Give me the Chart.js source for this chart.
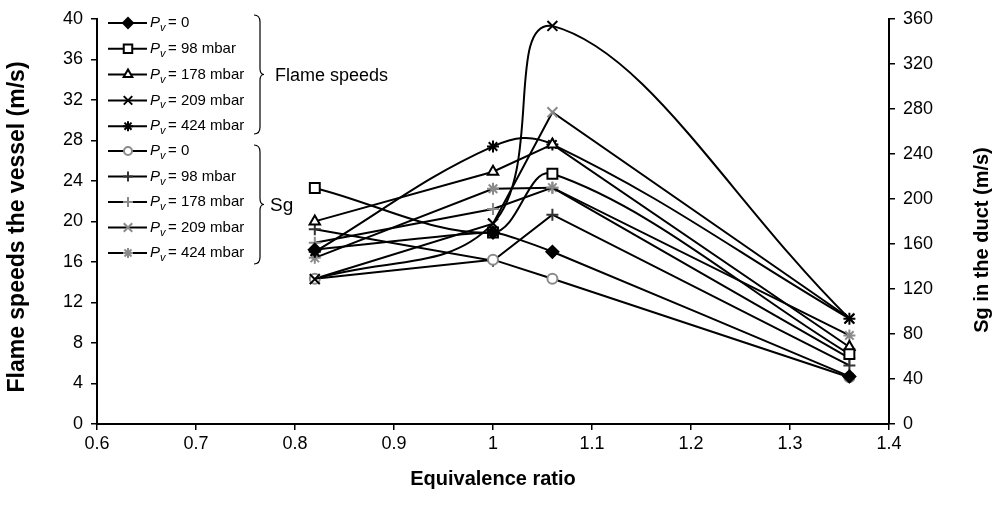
<!DOCTYPE html>
<html>
<head>
<meta charset="utf-8">
<script src="https://cdn.jsdelivr.net/npm/chart.js@4.4.0/dist/chart.umd.min.js"></script>
<style>
  html, body { margin: 0; padding: 0; background: #fff; }
  #wrap { position: relative; width: 995px; height: 509px; }
</style>
</head>
<body>
<div id="wrap"><canvas id="chart" width="995" height="509"></canvas></div>
<script>
// equivalence ratios tested
const ratios = [0.82, 1.0, 1.06, 1.36];

// flame speeds in the vessel (m/s), left axis
const fsPv0   = [17.2, 18.9, 17.0, 4.7];
const fsPv98  = [23.3, 18.9, 24.7, 6.9];
const fsPv178 = [20.0, 24.9, 27.6, 7.6];
const fsPv209 = [14.3, 19.8, 39.3, 10.4];
const fsPv424 = [17.0, 27.4, 27.6, 10.4];

// Sg in the duct (m/s), right axis
const sgPv0   = [129, 146, 129, 41.5];
const sgPv98  = [173, 145, 186, 52];
const sgPv178 = [161, 191, 210, 58.5];
const sgPv209 = [129, 178, 277, 94];
const sgPv424 = [147.6, 209, 210, 78.7];

const pvLabels = ['0', '98 mbar', '178 mbar', '209 mbar', '424 mbar'];

const GRAY = '#8a8a8a';
const pts = vals => vals.map((v, i) => ({ x: ratios[i], y: v }));

const series = [
  { data: fsPv0,   axis: 'y',  style: 'rectRot',  r: 6, color: '#000', fill: '#000', tension: 0.15 },
  { data: fsPv98,  axis: 'y',  style: 'rect',     r: 7, color: '#000', fill: '#fff', tension: 0.35 },
  { data: fsPv178, axis: 'y',  style: 'triangle', r: 6, color: '#000', fill: '#fff', tension: 0 },
  { data: fsPv209, axis: 'y',  style: 'crossRot', r: 7, color: '#000', fill: '#000', tension: 0.4 },
  { data: fsPv424, axis: 'y',  style: 'star',     r: 6, color: '#000', fill: '#000', tension: 0.4 },
  { data: sgPv0,   axis: 'y2', style: 'circle',   r: 5, color: GRAY,   fill: '#fff', tension: 0 },
  { data: sgPv98,  axis: 'y2', style: 'cross',    r: 6, color: '#333', fill: '#333', tension: 0 },
  { data: sgPv178, axis: 'y2', style: 'cross',    r: 6, color: GRAY,   fill: GRAY,   tension: 0 },
  { data: sgPv209, axis: 'y2', style: 'crossRot', r: 7, color: GRAY,   fill: GRAY,   tension: 0 },
  { data: sgPv424, axis: 'y2', style: 'star',     r: 6, color: GRAY,   fill: GRAY,   tension: 0 }
];

const datasets = series.map(s => ({
  data: pts(s.data),
  yAxisID: s.axis,
  borderColor: '#000',
  borderWidth: 2,
  tension: s.tension,
  pointStyle: s.style,
  pointRadius: s.r,
  pointBorderColor: s.color,
  pointBackgroundColor: s.fill,
  pointBorderWidth: 2
}));

function marker(ctx, s, x, y) {
  ctx.save();
  ctx.strokeStyle = s.color;
  ctx.fillStyle = s.fill;
  ctx.lineWidth = 2;
  Chart.helpers.drawPoint(ctx, { pointStyle: s.style, radius: s.r - 1, rotation: 0, borderWidth: 2 }, x, y);
  ctx.restore();
}

function brace(ctx, x, top, bottom, w) {
  const mid = (top + bottom) / 2;
  ctx.beginPath();
  ctx.moveTo(x, top);
  ctx.quadraticCurveTo(x + w, top, x + w, top + 7);
  ctx.lineTo(x + w, mid - 6);
  ctx.quadraticCurveTo(x + w, mid, x + w + 4, mid);
  ctx.quadraticCurveTo(x + w, mid, x + w, mid + 6);
  ctx.lineTo(x + w, bottom - 7);
  ctx.quadraticCurveTo(x + w, bottom, x, bottom);
  ctx.stroke();
}

const decor = {
  id: 'decor',
  afterDraw(chart) {
    const ctx = chart.ctx;
    ctx.save();
    // legend
    series.forEach((s, i) => {
      const y = i < 5 ? 23 + i * 25.8 : 151 + (i - 5) * 25.5;
      ctx.strokeStyle = '#000';
      ctx.lineWidth = 2;
      ctx.beginPath(); ctx.moveTo(108, y); ctx.lineTo(147, y); ctx.stroke();
      marker(ctx, s, 128, y);
      ctx.fillStyle = '#000';
      ctx.textBaseline = 'middle';
      ctx.textAlign = 'left';
      ctx.font = 'italic 15px "Liberation Sans", Arial, sans-serif';
      ctx.fillText('P', 150, y);
      ctx.font = 'italic 11px "Liberation Sans", Arial, sans-serif';
      ctx.fillText('v', 160, y + 5);
      ctx.font = '15px "Liberation Sans", Arial, sans-serif';
      ctx.fillText('= ' + pvLabels[i % 5], 168, y);
    });
    // braces and group labels
    ctx.strokeStyle = '#000';
    ctx.lineWidth = 1.2;
    brace(ctx, 254, 15, 134, 6);
    brace(ctx, 254, 145, 264, 6);
    ctx.fillStyle = '#000';
    ctx.font = '18px "Liberation Sans", Arial, sans-serif';
    ctx.fillText('Flame speeds', 275, 76);
    ctx.font = '19px "Liberation Sans", Arial, sans-serif';
    ctx.fillText('Sg', 270, 206);
    // axis titles
    ctx.font = 'bold 20px "Liberation Sans", Arial, sans-serif';
    ctx.textAlign = 'center';
    ctx.fillText('Equivalence ratio', 493, 479);
    ctx.save();
    ctx.translate(18, 227); ctx.rotate(-Math.PI / 2);
    ctx.font = 'bold 23px "Liberation Sans", Arial, sans-serif';
    ctx.fillText('Flame speeds the vessel (m/s)', 0, 0);
    ctx.restore();
    ctx.save();
    ctx.translate(982, 240); ctx.rotate(-Math.PI / 2);
    ctx.fillText('Sg in the duct (m/s)', 0, 0);
    ctx.restore();
    ctx.restore();
  }
};

const tickFont = { family: '"Liberation Sans", Arial, sans-serif', size: 18 };
const axisGrid = { drawOnChartArea: false, color: '#000', tickLength: 6, lineWidth: 1.5 };
const axisBorder = { color: '#000', width: 2 };

new Chart(document.getElementById('chart'), {
  type: 'line',
  data: { datasets },
  options: {
    responsive: false,
    animation: false,
    layout: { padding: { top: 17, left: 0, right: 0, bottom: 0 } },
    plugins: { legend: { display: false }, tooltip: { enabled: false } },
    scales: {
      x: {
        type: 'linear', min: 0.6, max: 1.4,
        ticks: { stepSize: 0.1, color: '#000', font: tickFont, padding: 3, callback: v => String(+v.toFixed(1)) },
        grid: axisGrid, border: axisBorder,
        afterFit: s => { s.height = 85; }
      },
      y: {
        position: 'left', min: 0, max: 40,
        ticks: { stepSize: 4, color: '#000', font: tickFont, padding: 8 },
        grid: axisGrid, border: axisBorder,
        afterFit: s => { s.width = 97; }
      },
      y2: {
        position: 'right', min: 0, max: 360,
        ticks: { stepSize: 40, color: '#000', font: tickFont, padding: 8 },
        grid: axisGrid, border: axisBorder,
        afterFit: s => { s.width = 106; }
      }
    }
  },
  plugins: [decor]
});
</script>
</body>
</html>
